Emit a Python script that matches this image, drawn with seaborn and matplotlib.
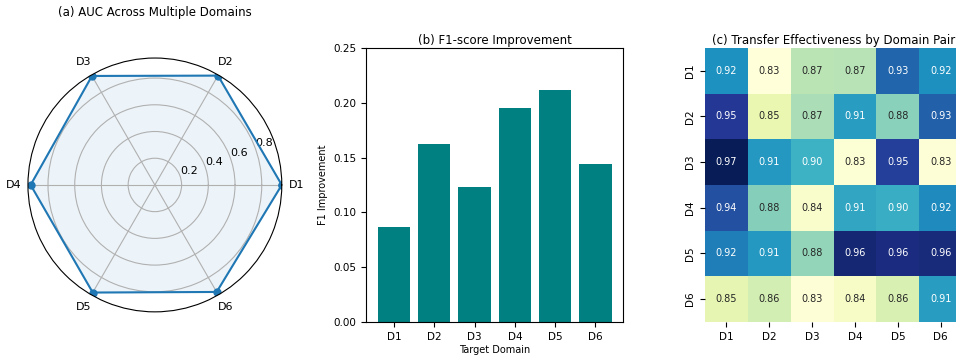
import numpy as np
import pandas as pd
import matplotlib
matplotlib.use("Agg")
import matplotlib.pyplot as plt
import seaborn as sns

domains = ["D1", "D2", "D3", "D4", "D5", "D6"]

# (a) AUC per domain
auc = [0.950, 0.945, 0.942, 0.930, 0.930, 0.925]

# (b) F1 improvement per target domain
f1_gain = [0.087, 0.162, 0.123, 0.195, 0.212, 0.144]

# (c) transfer effectiveness, rows = source, cols = target
row_d1 = [0.917, 0.830, 0.868, 0.869, 0.932, 0.918]
row_d2 = [0.951, 0.849, 0.872, 0.912, 0.880, 0.934]
row_d3 = [0.970, 0.914, 0.902, 0.833, 0.948, 0.832]
row_d4 = [0.941, 0.881, 0.836, 0.908, 0.904, 0.920]
row_d5 = [0.924, 0.914, 0.878, 0.962, 0.958, 0.960]
row_d6 = [0.851, 0.860, 0.832, 0.838, 0.857, 0.912]

fig = plt.figure(figsize=(9.56, 3.56), dpi=100)

# radar chart
ax1 = fig.add_axes([0.029, 0.124, 0.266, 0.713], projection="polar")
angles = np.linspace(0, 2 * np.pi, len(domains), endpoint=False).tolist()
vals = auc + auc[:1]
ang = angles + angles[:1]
ax1.plot(ang, vals, "o-", color="#1f77b4", linewidth=1.5, markersize=5)
ax1.fill(ang, vals, color="#1f77b4", alpha=0.08)
ax1.set_xticks(angles)
ax1.set_xticklabels(domains, fontsize=8)
ax1.set_ylim(0, max(auc))
ax1.set_yticks([0.2, 0.4, 0.6, 0.8])
ax1.set_yticklabels(["0.2", "0.4", "0.6", "0.8"], fontsize=8)
ax1.set_rlabel_position(20)
ax1.grid(color="#b0b0b0", linewidth=0.8)
ax1.tick_params(axis="x", pad=0)
ax1.set_title("(a) AUC Across Multiple Domains", fontsize=8.5, pad=30)

# bar chart
ax2 = fig.add_axes([0.383, 0.0955, 0.269, 0.770])
df_bar = pd.DataFrame({"Domain": domains, "Gain": f1_gain})
sns.barplot(data=df_bar, x="Domain", y="Gain", color="teal", saturation=1,
            width=0.8, ax=ax2)
ax2.set_xlim(-0.69, 5.69)
ax2.set_ylim(0, 0.25)
ax2.set_yticks([0, 0.05, 0.10, 0.15, 0.20, 0.25])
ax2.set_yticklabels(["0.00", "0.05", "0.10", "0.15", "0.20", "0.25"])
ax2.tick_params(labelsize=7.5)
ax2.set_xlabel("Target Domain", fontsize=7, labelpad=2)
ax2.set_ylabel("F1 Improvement", fontsize=7)
ax2.set_title("(b) F1-score Improvement", fontsize=8.5, pad=3)

# heatmap
ax3 = fig.add_axes([0.7375, 0.0955, 0.269, 0.770])
mat = pd.DataFrame([row_d1, row_d2, row_d3, row_d4, row_d5, row_d6],
                   index=domains, columns=domains)
sns.heatmap(mat, annot=True, fmt=".2f", cmap="YlGnBu", cbar=False,
            annot_kws={"fontsize": 7}, ax=ax3)
ax3.tick_params(labelsize=7.5)
ax3.set_title("(c) Transfer Effectiveness by Domain Pair", fontsize=8.5, pad=3)

fig.savefig("out.png", dpi=100)
